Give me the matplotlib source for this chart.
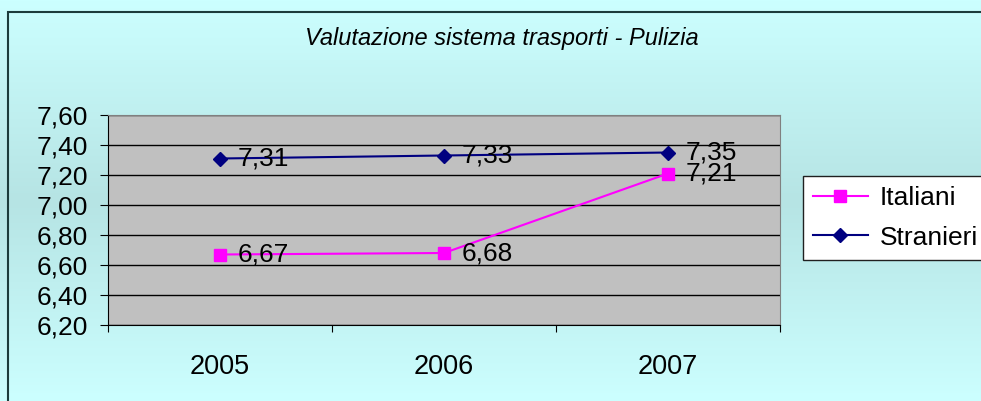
import matplotlib.pyplot as plt
import numpy as np
from matplotlib.colors import LinearSegmentedColormap
from matplotlib.patches import Rectangle

plt.rcParams['font.family'] = ['Liberation Sans', 'DejaVu Sans']

years = ['2005', '2006', '2007']
italiani = [6.67, 6.68, 7.21]
stranieri = [7.31, 7.33, 7.35]
yticks = [6.2, 6.4, 6.6, 6.8, 7.0, 7.2, 7.4, 7.6]


def fmt(v):
    return f'{v:.2f}'.replace('.', ',')


fig = plt.figure(figsize=(9.81, 4.01), dpi=100)

# background gradient (light cyan -> slightly darker -> light cyan)
bg = fig.add_axes([0, 0, 1, 1], zorder=-10)
cmap = LinearSegmentedColormap.from_list('bg', ['#ccffff', '#b6e4e4', '#ccffff'])
bg.imshow(np.linspace(0, 1, 256).reshape(-1, 1), aspect='auto', cmap=cmap,
          extent=[0, 1, 0, 1])
bg.set_axis_off()
fig.patches.append(Rectangle((8 / 981, -0.02), 1.1, 1.02 - 12 / 401, transform=fig.transFigure,
                             fill=False, edgecolor='#1c3c3c', linewidth=1.5, zorder=5))

ax = fig.add_axes([108 / 981, 1 - 325 / 401, 672 / 981, 210 / 401])
ax.set_facecolor('#c0c0c0')
x = np.arange(len(years))

ax.plot(x, italiani, color='#ff00ff', marker='s', markersize=8.5, linewidth=1.5, label='Italiani')
ax.plot(x, stranieri, color='#000080', marker='D', markersize=7, linewidth=1.5, label='Stranieri')

for xi, v in zip(x, italiani):
    ax.annotate(fmt(v), (xi, v), xytext=(13, 0), textcoords='offset points',
                va='center', ha='left', fontsize=19)
for xi, v in zip(x, stranieri):
    ax.annotate(fmt(v), (xi, v), xytext=(13, 0), textcoords='offset points',
                va='center', ha='left', fontsize=19)

ax.set_ylim(6.2, 7.6)
ax.set_yticks(yticks)
ax.set_yticklabels([fmt(t) for t in yticks], fontsize=19)
ax.yaxis.grid(True, color='black', linewidth=1)
ax.set_axisbelow(True)

ax.set_xlim(-0.5, 2.5)
ax.set_xticks([-0.5, 0.5, 1.5, 2.5])
ax.set_xticklabels([])
ax.set_xticks(x, minor=True)
ax.set_xticklabels(years, minor=True, fontsize=19.5)
ax.tick_params(axis='x', which='minor', length=0, pad=21)
ax.tick_params(axis='x', which='major', length=5, color='black')
ax.tick_params(axis='y', length=5.5, pad=9)

for s in ['top', 'right']:
    ax.spines[s].set_color('#808080')
for s in ['left', 'bottom']:
    ax.spines[s].set_color('black')

fig.text(502 / 981, 1 - 39 / 401, 'Valutazione sistema trasporti - Pulizia', ha='center', va='center',
         fontsize=17, style='italic')

leg = fig.legend(loc='upper left', bbox_to_anchor=(803 / 981, 1 - 176 / 401), fontsize=19,
                 frameon=True, fancybox=False, edgecolor='#202020', framealpha=1,
                 handlelength=2.08, borderpad=0.38, labelspacing=0.59, handletextpad=0.45,
                 borderaxespad=0)
leg.get_frame().set_linewidth(1)

fig.savefig('out.png', dpi=100)
